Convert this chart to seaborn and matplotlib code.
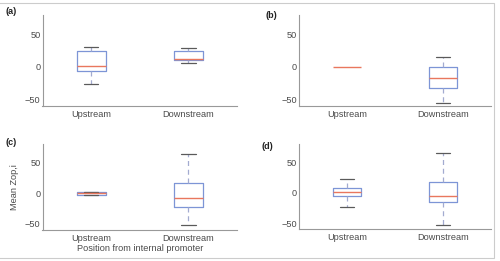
import matplotlib
matplotlib.use("Agg")
import matplotlib.pyplot as plt
import matplotlib.colors as mcolors
import numpy as np
import pandas as pd
import seaborn as sns
from matplotlib.patches import Rectangle

# --- values (min, q1, median, q3, max) ---
positions = ["Upstream", "Downstream"]
panel_labels = ["(a)", "(b)", "(c)", "(d)"]

a_up = [-27, -7, 1, 25, 31]
a_down = [6, 10, 12, 24, 29]
b_up = [0, 0, 0, 0, 0]
b_down = [-56, -32, -17, 0, 15]
c_up = [-3, -3, 1, 2, 2]
c_down = [-52, -22, -8, 16, 63]
d_up = [-23, -6, 1, 7, 23]
d_down = [-53, -16, -5, 18, 65]

y_ticks = [-50, 0, 50]
y_label = "Mean Zop,i"
x_label = "Position from internal promoter"

sns.set_theme(style="white")
plt.rcParams['font.family'] = ['Liberation Sans', 'DejaVu Sans']

box_blue = "#7d95d6"
median_red = "#e9775e"
whisk_col = "#a3abd0"
cap_col = "#5a5a5a"
spine_col = "#999999"
text_col = "#4a4a4a"

fig = plt.figure(figsize=(5, 2.61), dpi=100)

# axes positions in figure fraction
rects = [
    [0.085, 0.594, 0.389, 0.349],
    [0.598, 0.594, 0.384, 0.349],
    [0.085, 0.119, 0.389, 0.329],
    [0.598, 0.122, 0.384, 0.326],
]
panels = [(a_up, a_down), (b_up, b_down), (c_up, c_down), (d_up, d_down)]
label_xy = [(0.012, 0.955), (0.532, 0.94), (0.012, 0.455), (0.522, 0.44)]

for i, (up, down) in enumerate(panels):
    ax = fig.add_axes(rects[i])
    df = pd.DataFrame({
        "pos": [positions[0]] * len(up) + [positions[1]] * len(down),
        "val": up + down,
    })
    sns.boxplot(
        data=df, x="pos", y="val", order=positions, ax=ax,
        whis=(0, 100), width=0.3, fill=False, showfliers=False,
        boxprops=dict(color=box_blue, linewidth=0.9),
        medianprops=dict(color=median_red, linewidth=1.0),
        whiskerprops=dict(color=whisk_col, linewidth=0.9, linestyle=(0, (4, 3))),
        capprops=dict(color=cap_col, linewidth=0.9),
    )
    # median lines on top (matters where the box collapses to a line)
    for ln in ax.lines:
        ydata = np.asarray(ln.get_ydata(), dtype=float)
        if mcolors.to_hex(ln.get_color()) == median_red:
            ln.set_zorder(10)
        elif len(ydata) and np.ptp(ydata) == 0 and np.all(ydata == 0) and i == 1:
            # collapsed box/caps of the all-zero group stay hidden under the median
            ln.set_visible(False)
    ax.set_xlim(-0.5, 1.5)
    ax.set_ylim(-60, 80)
    ax.set_yticks(y_ticks)
    ax.tick_params(axis="both", length=0, labelsize=6.6, colors=text_col, pad=1.5)
    ax.tick_params(axis="x", pad=3)
    sns.despine(ax=ax)
    for s in ["left", "bottom"]:
        ax.spines[s].set_color(spine_col)
        ax.spines[s].set_linewidth(0.8)
    ax.set_xlabel("")
    ax.set_ylabel("")
    if i == 2:
        ax.set_ylabel(y_label, fontsize=6.6, color=text_col, labelpad=4)
        ax.set_xlabel(x_label, fontsize=6.6, color=text_col, labelpad=1)
    fig.text(label_xy[i][0], label_xy[i][1], panel_labels[i], fontsize=6.5,
             fontweight="bold", color="#222222", va="center", ha="left")

# light frame around the figure
fig.patches.append(Rectangle((-0.01, 0.0115), 0.998, 0.977, transform=fig.transFigure,
                             fill=False, edgecolor="#cccccc", linewidth=0.8))

fig.savefig("out.png", dpi=100)
